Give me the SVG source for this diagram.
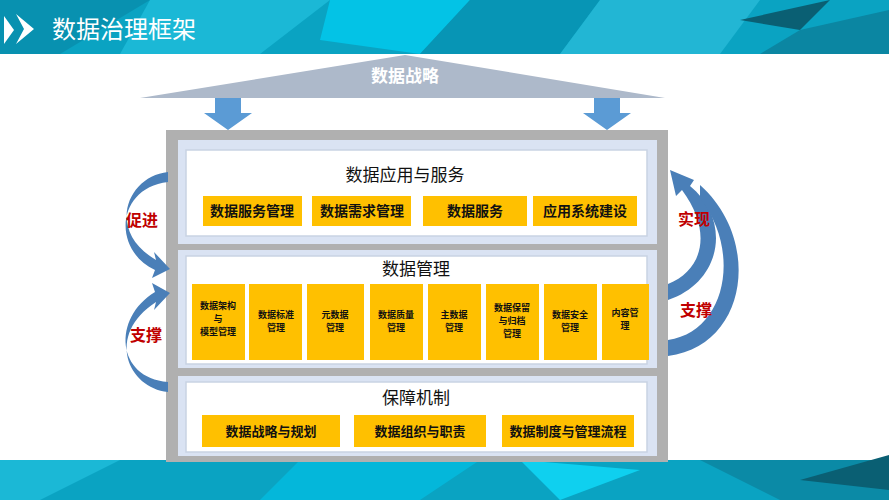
<svg xmlns="http://www.w3.org/2000/svg" width="889" height="500" viewBox="0 0 889 500">
<style>
.y{fill:#ffc000}
.t{font-family:"Noto Sans CJK SC",sans-serif;font-weight:bold;fill:#111;text-anchor:middle}
.h{font-family:"Noto Sans CJK SC",sans-serif;fill:#111;text-anchor:middle;font-size:17px}
.r{font-family:"Noto Sans CJK SC",sans-serif;font-weight:bold;fill:#c00000;font-size:16px;text-anchor:middle}
.pb{fill:#dae3f3}
.pw{fill:#fff;stroke:#c9d3e3;stroke-width:1.5}
.ar{fill:#4a7fb8}
</style>
<rect width="889" height="500" fill="#fff"/>
<g id="header">
<rect width="889" height="54" fill="#0aa3c2"/>
<polygon points="150,0 330,0 260,54 120,54" fill="#1bb8d6"/>
<polygon points="330,0 470,0 420,54 320,40" fill="#03c3e6"/>
<polygon points="470,0 600,0 560,54 420,54" fill="#0795b5"/>
<polygon points="600,0 760,0 720,54 560,54" fill="#22b6d4"/>
<polygon points="740,20 830,0 800,30" fill="#0a5f73"/>
<polygon points="800,30 889,10 889,54 760,54" fill="#0b86a2"/>
<polygon points="0,0 150,0 60,54 0,54" fill="#0891b0"/>
<polygon points="4,16 4,44 14,30" fill="#fff"/>
<polygon points="16,14 34,29 16,44 24,29" fill="#fff"/>
<text x="52" y="38" font-family="'Noto Sans CJK SC',sans-serif" font-size="24" fill="#fff">数据治理框架</text>
</g>
<g id="footer">
<rect y="460" width="889" height="40" fill="#0aa3c2"/>
<polygon points="0,460 120,460 40,500 0,500" fill="#1bb8d6"/>
<polygon points="300,460 480,460 420,500 260,500" fill="#04b7da"/>
<polygon points="520,460 640,470 560,500" fill="#0fd0ef"/>
<polygon points="700,460 889,460 889,500 780,500" fill="#0b8aa6"/>
<polygon points="800,480 889,455 889,490" fill="#0a5f73"/>
</g>
<g id="roof">
<polygon points="405,55 665,98 140,98" fill="#adb9ca"/>
<text x="405" y="82" font-family="'Noto Sans CJK SC',sans-serif" font-weight="bold" font-size="17" fill="#fff" text-anchor="middle">数据战略</text>
</g>
<g id="frame">
<rect x="166" y="130" width="502" height="332" fill="#b0b0b0"/>
<rect x="178" y="140" width="479" height="104" class="pb"/>
<rect x="186" y="150" width="461" height="86" class="pw"/>
<rect x="178" y="250" width="479" height="118" class="pb"/>
<rect x="186" y="256" width="461" height="108" class="pw"/>
<rect x="178" y="376" width="479" height="80" class="pb"/>
<rect x="186" y="382" width="461" height="70" class="pw"/>
</g>
<g id="app">
<text class="h" x="405" y="181">数据应用与服务</text>
<rect class="y" x="203" y="196" width="99" height="30"/><text class="t" font-size="14" x="252" y="216">数据服务管理</text>
<rect class="y" x="312" y="196" width="99" height="30"/><text class="t" font-size="14" x="362" y="216">数据需求管理</text>
<rect class="y" x="423" y="196" width="104" height="30"/><text class="t" font-size="14" x="475" y="216">数据服务</text>
<rect class="y" x="533" y="196" width="104" height="30"/><text class="t" font-size="14" x="585" y="216">应用系统建设</text>
</g>
<g id="mgmt">
<text class="h" x="416" y="275">数据管理</text>
<rect class="y" x="192" y="284" width="53" height="76"/><text class="t" font-size="9" x="218" y="309">数据架构<tspan x="218" dy="13">与</tspan><tspan x="218" dy="13">模型管理</tspan></text>
<rect class="y" x="249" y="284" width="53" height="76"/><text class="t" font-size="9" x="276" y="318">数据标准<tspan x="276" dy="13">管理</tspan></text>
<rect class="y" x="307" y="284" width="57" height="76"/><text class="t" font-size="9" x="335" y="318">元数据<tspan x="335" dy="13">管理</tspan></text>
<rect class="y" x="370" y="284" width="53" height="76"/><text class="t" font-size="9" x="396" y="318">数据质量<tspan x="396" dy="13">管理</tspan></text>
<rect class="y" x="428" y="284" width="53" height="76"/><text class="t" font-size="9" x="454" y="318">主数据<tspan x="454" dy="13">管理</tspan></text>
<rect class="y" x="486" y="284" width="53" height="76"/><text class="t" font-size="9" x="512" y="311">数据保留<tspan x="512" dy="13">与归档</tspan><tspan x="512" dy="13">管理</tspan></text>
<rect class="y" x="544" y="284" width="53" height="76"/><text class="t" font-size="9" x="570" y="318">数据安全<tspan x="570" dy="13">管理</tspan></text>
<rect class="y" x="602" y="284" width="47" height="76"/><text class="t" font-size="9" x="625" y="316">内容管<tspan x="625" dy="13">理</tspan></text>
</g>
<g id="guarantee">
<text class="h" x="416" y="404">保障机制</text>
<rect class="y" x="202" y="415" width="138" height="32"/><text class="t" font-size="13" x="271" y="436">数据战略与规划</text>
<rect class="y" x="354" y="415" width="132" height="32"/><text class="t" font-size="13" x="420" y="436">数据组织与职责</text>
<rect class="y" x="502" y="415" width="132" height="32"/><text class="t" font-size="13" x="568" y="436">数据制度与管理流程</text>
</g>
<g id="connectors">
<polygon points="215,98 241,98 241,113 252,113 228,130 204,113 215,113" fill="#5b9bd5"/>
<polygon points="594,98 620,98 620,113 631,113 607,130 583,113 594,113" fill="#5b9bd5"/>
<path class="ar" d="M168,172 C128,176 105,230 156,260 L154,252 L170,269 L152,278 L155,270 C112,250 116,188 168,182 Z"/>
<path class="ar" d="M168,392 C128,388 105,335 156,302 L154,310 L170,293 L152,283 L155,292 C112,318 116,378 168,382 Z"/>
<path class="ar" d="M668,300 C722,282 732,220 690,186 L694,180 L670,170 L676,196 L682,190 C713,232 703,270 668,284 Z"/>
<path class="ar" d="M668,356 C748,346 762,240 700,185 L700,198 C742,252 726,332 668,340 Z"/>
</g>
<g id="labels">
<text class="r" x="142" y="226">促进</text>
<text class="r" x="146" y="341">支撑</text>
<text class="r" x="694" y="225">实现</text>
<text class="r" x="696" y="316">支撑</text>
</g>
</svg>
